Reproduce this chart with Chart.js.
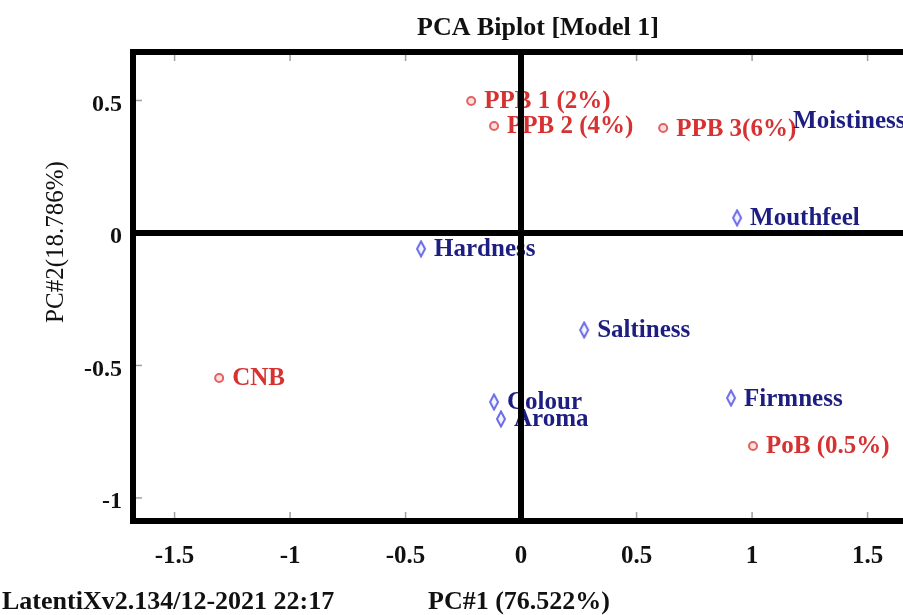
<!DOCTYPE html>
<html>
<head>
<meta charset="utf-8">
<script src="https://cdn.jsdelivr.net/npm/chart.js@4/dist/chart.umd.min.js"></script>
<style>
  html, body { margin: 0; padding: 0; background: #fff; overflow: hidden; }
  #wrap { position: relative; width: 920px; height: 615px; }
</style>
</head>
<body>
<div id="wrap"><canvas id="myChart"></canvas></div>
<script>
"use strict";

// samples (red) and sensory attributes (blue), PC1 / PC2 scores
var sampleNames = ["PPB 1 (2%)", "PPB 2 (4%)", "PPB 3(6%)", "CNB", "PoB (0.5%)"];
var sampleX = [-0.216, -0.117, 0.615, -1.307, 1.004];
var sampleY = [0.498, 0.404, 0.396, -0.547, -0.804];

var attrNames = ["Moistiness", "Mouthfeel", "Hardness", "Saltiness", "Colour", "Aroma", "Firmness"];
var attrX = [1.121, 0.935, -0.433, 0.273, -0.117, -0.087, 0.909];
var attrY = [0.426, 0.057, -0.060, -0.366, -0.638, -0.702, -0.623];
var attrMarker = [0, 4, 4, 4, 4, 4, 4];

var xTicks = [-1.5, -1, -0.5, 0, 0.5, 1, 1.5];
var yTicks = [-1, -0.5, 0, 0.5];

var serif = '"Liberation Serif", "Times New Roman", serif';

function toPoints(xs, ys) {
    return xs.map(function (x, i) { return { x: x, y: ys[i] }; });
}

// tall outlined diamond used for the attribute markers
var diamond = document.createElement('canvas');
diamond.width = 12;
diamond.height = 18;
(function () {
    var c = diamond.getContext('2d');
    c.beginPath();
    c.moveTo(6, 1.5);
    c.lineTo(10, 9);
    c.lineTo(6, 16.5);
    c.lineTo(2, 9);
    c.closePath();
    c.fillStyle = '#f4f4ff';
    c.fill();
    c.lineWidth = 2;
    c.strokeStyle = '#6c6ce8';
    c.stroke();
})();

var pointLabels = {
    id: 'pointLabels',
    afterDatasetsDraw: function (chart) {
        var ctx = chart.ctx;
        ctx.save();
        ctx.font = 'bold 25px ' + serif;
        ctx.textBaseline = 'middle';
        ctx.textAlign = 'left';
        chart.data.datasets.forEach(function (ds, i) {
            var meta = chart.getDatasetMeta(i);
            ctx.fillStyle = ds.labelColor;
            meta.data.forEach(function (pt, j) {
                ctx.fillText(ds.names[j], pt.x + 13, pt.y + 1);
            });
        });
        ctx.restore();
    }
};

var decor = {
    id: 'decor',
    afterDraw: function (chart) {
        var ctx = chart.ctx;
        var a = chart.chartArea;
        var xs = chart.scales.x, ys = chart.scales.y;
        ctx.save();
        // top frame line
        ctx.strokeStyle = '#000';
        ctx.lineWidth = 6;
        ctx.beginPath();
        ctx.moveTo(a.left - 3, a.top);
        ctx.lineTo(a.right, a.top);
        ctx.stroke();
        // small inner tick marks
        ctx.strokeStyle = '#a0a0a0';
        ctx.lineWidth = 1.5;
        xTicks.forEach(function (v) {
            if (v === 0) return;
            var px = xs.getPixelForValue(v);
            ctx.beginPath();
            ctx.moveTo(px, a.top + 3);
            ctx.lineTo(px, a.top + 9);
            ctx.moveTo(px, a.bottom - 3);
            ctx.lineTo(px, a.bottom - 9);
            ctx.stroke();
        });
        yTicks.forEach(function (v) {
            if (v === 0) return;
            var py = ys.getPixelForValue(v);
            ctx.beginPath();
            ctx.moveTo(a.left + 3, py);
            ctx.lineTo(a.left + 9, py);
            ctx.stroke();
        });
        ctx.fillStyle = '#111';
        ctx.textAlign = 'center';
        ctx.textBaseline = 'middle';
        // chart title
        ctx.font = 'bold 26px ' + serif;
        ctx.fillText('PCA Biplot [Model 1]', 538, 28);
        // y axis title
        ctx.font = '25px ' + serif;
        ctx.save();
        ctx.translate(56, a.top + 190);
        ctx.rotate(-Math.PI / 2);
        ctx.fillText('PC#2(18.786%)', 0, 0);
        ctx.restore();
        // software footer
        ctx.font = 'bold 26px ' + serif;
        ctx.textAlign = 'left';
        ctx.fillText('LatentiXv2.134/12-2021 22:17', 2, 602);
        ctx.restore();
    }
};

var zeroLine = {
    z: 1,
    drawTicks: false,
    color: function (c) { return c.tick && c.tick.value === 0 ? '#000' : 'rgba(0,0,0,0)'; },
    lineWidth: function (c) { return c.tick && c.tick.value === 0 ? 6 : 0; }
};

var tickText = function (v) { return String(v); };

var ctx = document.getElementById('myChart');

var myChart = new Chart(ctx, {
    type: 'scatter',
    data: {
        datasets: [
            {
                label: 'Samples',
                names: sampleNames,
                labelColor: '#d63232',
                data: toPoints(sampleX, sampleY),
                pointStyle: 'circle',
                pointRadius: 4,
                pointBorderWidth: 2,
                pointBorderColor: '#e06262',
                pointBackgroundColor: '#ffdede'
            },
            {
                label: 'Attributes',
                names: attrNames,
                labelColor: '#1e1e82',
                data: toPoints(attrX, attrY),
                pointStyle: diamond,
                pointRadius: attrMarker
            }
        ]
    },
    options: {
        responsive: true,
        maintainAspectRatio: false,
        animation: false,
        events: [],
        layout: { padding: { top: 52, left: 0, right: 15, bottom: 0 } },
        plugins: {
            legend: { display: false },
            tooltip: { enabled: false },
            title: { display: false }
        },
        scales: {
            x: {
                type: 'linear',
                min: -1.68,
                max: 1.662,
                afterBuildTicks: function (s) { s.ticks = xTicks.map(function (v) { return { value: v }; }); },
                afterFit: function (s) { s.height = 94; },
                grid: zeroLine,
                border: { display: true, color: '#000', width: 6, z: 1 },
                ticks: {
                    color: '#111',
                    padding: 21,
                    maxRotation: 0,
                    callback: tickText,
                    font: { family: serif, size: 25, weight: 'bold' }
                },
                title: {
                    display: true,
                    text: 'PC#1 (76.522%)',
                    color: '#111',
                    font: { family: serif, size: 26, weight: 'bold', lineHeight: 1 },
                    padding: { top: 0, bottom: 0 }
                }
            },
            y: {
                type: 'linear',
                min: -1.087,
                max: 0.683,
                afterBuildTicks: function (s) { s.ticks = yTicks.map(function (v) { return { value: v }; }); },
                afterFit: function (s) { s.width = 133; },
                grid: zeroLine,
                border: { display: true, color: '#000', width: 6, z: 1 },
                ticks: {
                    color: '#111',
                    padding: 11,
                    labelOffset: 4,
                    callback: tickText,
                    font: { family: serif, size: 24, weight: 'bold' }
                }
            }
        }
    },
    plugins: [pointLabels, decor]
});
</script>
</body>
</html>
